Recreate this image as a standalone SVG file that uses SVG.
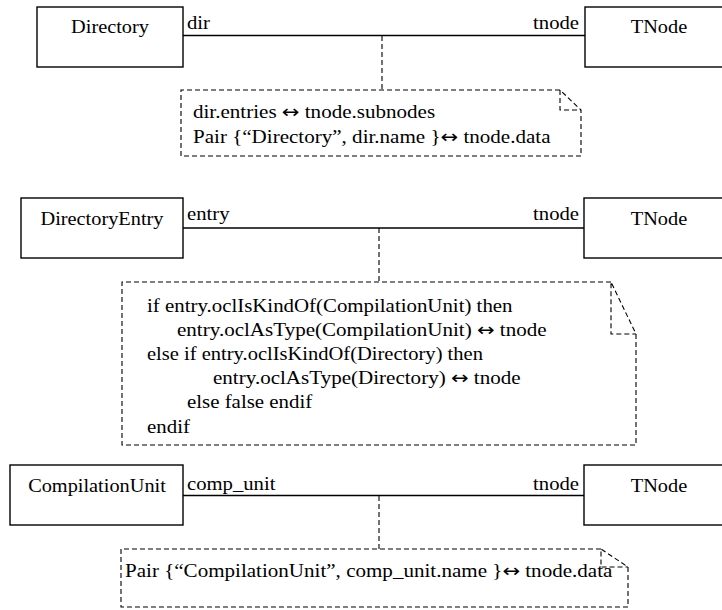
<svg xmlns="http://www.w3.org/2000/svg" width="722" height="610" viewBox="0 0 722 610">
<style>
text{font-family:'Liberation Serif','Times New Roman',serif;font-size:18px;fill:#000}
.mid{text-anchor:middle}
.end{text-anchor:end}
.arr{font-family:'DejaVu Sans',sans-serif}
.box{fill:#fff;stroke:#000;stroke-width:1.4}
.assoc{fill:none;stroke:#000;stroke-width:1.4}
.dash{fill:none;stroke:#000;stroke-width:1.1;stroke-dasharray:5 3}
</style>
<rect width="722" height="610" fill="#fff"/>
<g id="connectors">
<line class="assoc" x1="183" y1="35.5" x2="585" y2="35.5"/>
<line class="dash" x1="382" y1="36" x2="382" y2="90"/>
<line class="assoc" x1="183" y1="228" x2="584" y2="228"/>
<line class="dash" x1="379" y1="228" x2="379" y2="282"/>
<line class="assoc" x1="183" y1="495.5" x2="584" y2="495.5"/>
<line class="dash" x1="379" y1="496" x2="379" y2="549"/>
<text transform="translate(187,29) scale(1.15,1)">dir</text>
<text class="end" transform="translate(579,29) scale(1.15,1)">tnode</text>
<text transform="translate(187,220) scale(1.15,1)">entry</text>
<text class="end" transform="translate(579,220) scale(1.15,1)">tnode</text>
<text transform="translate(187,490) scale(1.15,1)">comp_unit</text>
<text class="end" transform="translate(579,490) scale(1.15,1)">tnode</text>
</g>
<g id="directory">
<rect class="box" x="37" y="7" width="146" height="60"/>
<text class="mid" transform="translate(110,33) scale(1.13,1)">Directory</text>
</g>
<g id="tnode1">
<rect class="box" x="585" y="7" width="150" height="60"/>
<text class="mid" transform="translate(659,33) scale(1.13,1)">TNode</text>
</g>
<g id="note1">
<path class="dash" d="M560,90 H181 V156 H581 V110 L560,90 V110 H581"/>
<text transform="translate(193,118) scale(1.17,1)">dir.entries <tspan class="arr">↔</tspan> tnode.subnodes</text>
<text transform="translate(193,143) scale(1.17,1)">Pair {“Directory”, dir.name }<tspan class="arr">↔</tspan> tnode.data</text>
</g>
<g id="directoryentry">
<rect class="box" x="21" y="198" width="162" height="60"/>
<text class="mid" transform="translate(102,225) scale(1.13,1)">DirectoryEntry</text>
</g>
<g id="tnode2">
<rect class="box" x="584" y="198" width="150" height="60"/>
<text class="mid" transform="translate(659,225) scale(1.13,1)">TNode</text>
</g>
<g id="note2">
<path class="dash" d="M611,282 H122 V445 H636 V334 L611,282 V334 H636"/>
<text transform="translate(147,312) scale(1.16,1)">if entry.oclIsKindOf(CompilationUnit) then</text>
<text transform="translate(177,336) scale(1.17,1)">entry.oclAsType(CompilationUnit) <tspan class="arr">↔</tspan> tnode</text>
<text transform="translate(147,360) scale(1.14,1)">else if entry.oclIsKindOf(Directory) then</text>
<text transform="translate(213,384) scale(1.17,1)">entry.oclAsType(Directory) <tspan class="arr">↔</tspan> tnode</text>
<text transform="translate(187,408) scale(1.16,1)">else false endif</text>
<text transform="translate(147,433) scale(1.16,1)">endif</text>
</g>
<g id="compilationunit">
<rect class="box" x="10" y="465" width="173" height="60"/>
<text class="mid" transform="translate(97,492) scale(1.13,1)">CompilationUnit</text>
</g>
<g id="tnode3">
<rect class="box" x="584" y="465" width="150" height="60"/>
<text class="mid" transform="translate(659,492) scale(1.13,1)">TNode</text>
</g>
<g id="note3">
<path class="dash" d="M601,549 H121 V607 H628 V567 L601,549 V567 H628"/>
<text transform="translate(125,577) scale(1.17,1)">Pair {“CompilationUnit”, comp_unit.name }<tspan class="arr">↔</tspan> tnode.data</text>
</g>
</svg>
